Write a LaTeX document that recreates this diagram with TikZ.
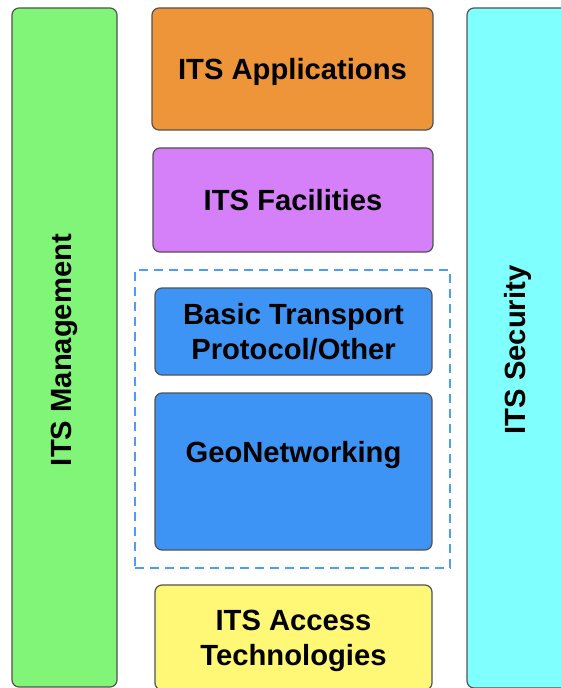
\documentclass[tikz,border=0pt]{standalone}
\usepackage{fontspec}
\setmainfont{Liberation Sans}
\begin{document}
\begin{tikzpicture}[x=1bp,y=-1bp,
  box/.style={draw=black!68, line width=1.2bp, rounded corners=7bp, inner sep=0pt,
    font=\bfseries\fontsize{29.2bp}{35bp}\selectfont, align=center},
  lbl/.style={inner sep=0pt, font=\bfseries\fontsize{29.2bp}{35bp}\selectfont, align=center}]
\definecolor{cgreen}{HTML}{81F577}
\definecolor{corange}{HTML}{EE9539}
\definecolor{cpurple}{HTML}{D580F8}
\definecolor{cblue}{HTML}{3E94F4}
\definecolor{cyellow}{HTML}{FFF776}
\definecolor{ccyan}{HTML}{80FFFF}
\definecolor{cdash}{HTML}{4D9DF2}
\useasboundingbox (0,0) rectangle (561,688);
\clip (0,0) rectangle (561,688);
\node[box, fill=cgreen, minimum width=105bp, minimum height=679bp] (mgmt) at (64.5,347.5) {};
\node[lbl, rotate=90] (mgmtl) at (64,350) {ITS Management};
\node[box, fill=ccyan, minimum width=103bp, minimum height=680bp] (sec) at (518.5,348) {};
\node[lbl, rotate=90] (secl) at (518,350) {ITS Security};
\node[box, fill=corange, minimum width=281bp, minimum height=122bp, text depth=0pt] (app) at (292.5,69) {ITS Applications};
\node[box, fill=cpurple, minimum width=280bp, minimum height=104bp] (fac) at (293,200) {ITS Facilities};
\node[draw=cdash, line width=2.4bp, dash pattern=on 9bp off 6bp, minimum width=315bp, minimum height=298bp, inner sep=0pt] (net) at (292.5,419) {};
\node[box, fill=cblue, minimum width=277bp, minimum height=87bp] (btp) at (293.5,331.5) {Basic Transport\\Protocol/Other};
\node[box, fill=cblue, minimum width=277bp, minimum height=157bp] (geo) at (293.5,471.5) {};
\node[lbl] (geol) at (293.5,455) {GeoNetworking};
\node[box, fill=cyellow, minimum width=277bp, minimum height=105bp] (acc) at (293.5,637.5) {};
\node[lbl] (accl) at (293.5,640.5) {ITS Access\\Technologies};
\end{tikzpicture}
\end{document}
